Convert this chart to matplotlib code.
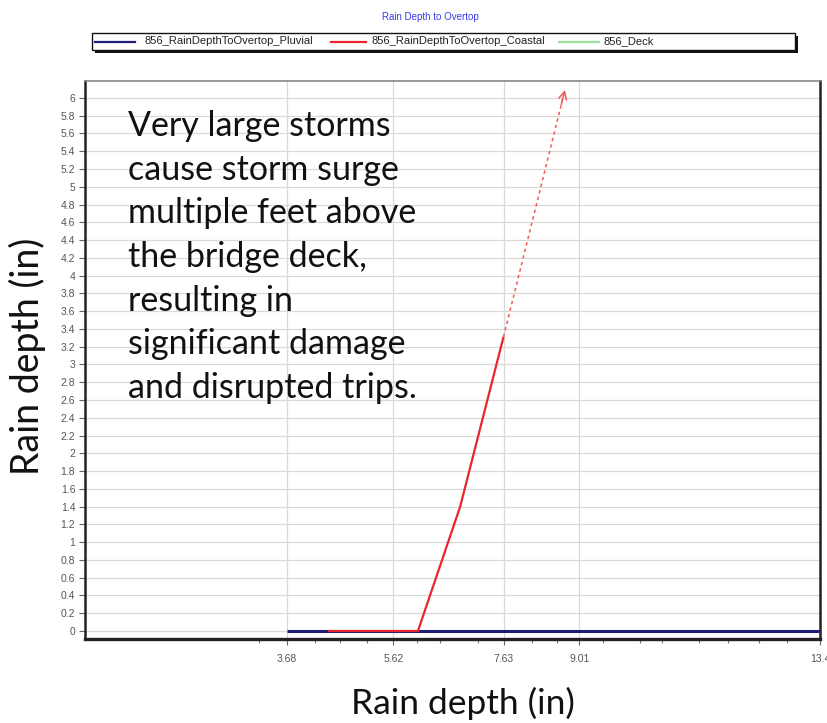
import matplotlib
matplotlib.use("Agg")
import matplotlib.pyplot as plt
from matplotlib.patches import Rectangle
from matplotlib.lines import Line2D

# ---------------- data ----------------
title = "Rain Depth to Overtop"
series_names = ["856_RainDepthToOvertop_Pluvial", "856_RainDepthToOvertop_Coastal", "856_Deck"]
series_colors = ["#1e1e78", "#e8262c", "#9be39b"]

pluvial_x = [3.68, 13.4]
pluvial_y = [0, 0]
coastal_x = [4.43, 6.07, 6.84, 7.63]
coastal_y = [0, 0, 1.40, 3.31]
deck_x = []
deck_y = []
trend_x = [7.63, 8.75]
trend_y = [3.31, 6.09]

x_ticks = [3.68, 5.62, 7.63, 9.01, 13.4]
x_tick_labels = ["3.68", "5.62", "7.63", "9.01", "13.4"]
x_minor_ticks = [3.17, 4.19, 4.65, 5.14, 6.05, 6.47, 7.17, 8.15, 8.61, 9.45,
                 10.12, 10.52, 11.2, 11.73, 12.29, 12.8]
y_ticks = [round(i * 0.2, 1) for i in range(31)]
y_tick_labels = [f"{v:g}" for v in y_ticks]

note = ("Very large storms\ncause storm surge\nmultiple feet above\nthe bridge deck,\n"
        "resulting in\nsignificant damage\nand disrupted trips.")
x_label = "Rain depth (in)"
y_label = "Rain depth (in)"

# ---------------- figure ----------------
W, H = 828, 723
fig = plt.figure(figsize=(W / 100, H / 100), dpi=100)
fig.patch.set_facecolor("white")

def fx(px):
    return px / W

def fy(py):
    return 1 - py / H

L, R, T, B = 85, 820, 81, 639
ax = fig.add_axes([fx(L), fy(B), fx(R - L), (B - T) / H])
ax.set_xlim(0, 13.4)
ax.set_ylim(-0.09, 6.19)

ax.set_xticks(x_ticks)
ax.set_xticklabels(x_tick_labels)
ax.set_xticks(x_minor_ticks, minor=True)
ax.set_yticks(y_ticks)
ax.set_yticklabels(y_tick_labels)

for lab in ax.get_xticklabels() + ax.get_yticklabels():
    lab.set_fontfamily("Liberation Sans")
    lab.set_fontsize(7.5)
ax.tick_params(axis="both", which="major", colors="#666666", labelcolor="#555555",
               length=4, width=0.8, pad=3)
ax.tick_params(axis="x", which="minor", colors="#777777", length=3, width=0.8)
ax.tick_params(axis="x", which="major", pad=7)

ax.grid(True, which="major", color="#d9d9d9", linewidth=0.9)
ax.set_axisbelow(True)

for side in ["left", "bottom", "right"]:
    ax.spines[side].set_color("#222222")
    ax.spines[side].set_linewidth(1.8)
ax.spines["bottom"].set_linewidth(2.4)
ax.spines["top"].set_color("#888888")
ax.spines["top"].set_linewidth(1.2)

# series
ax.plot(pluvial_x, pluvial_y, color=series_colors[0], lw=2.2, zorder=3,
        solid_capstyle="butt")
ax.plot(coastal_x, coastal_y, color=series_colors[1], lw=1.6, zorder=4,
        solid_capstyle="butt")
ax.plot(deck_x, deck_y, color=series_colors[2], lw=1.2, zorder=3)

# dashed extrapolation arrow
ax.plot(trend_x, trend_y, color="#f05a5a", lw=1.1, ls=(0, (2.2, 2.2)), zorder=4)
fr = 0.06
ax.annotate("", xy=(trend_x[1], trend_y[1]),
            xytext=(trend_x[1] - fr * (trend_x[1] - trend_x[0]),
                    trend_y[1] - fr * (trend_y[1] - trend_y[0])),
            arrowprops=dict(arrowstyle="->", color="#f05a5a", lw=1.1,
                            mutation_scale=14, shrinkA=0, shrinkB=0),
            zorder=4)

# note text
fig.text(fx(128), fy(110), note, ha="left", va="top", family="Lato",
         fontsize=24.5, color="#111111", linespacing=1.45)

# axis labels
fig.text(fx(463), fy(703), x_label, ha="center", va="center", family="Lato",
         fontsize=25.5, color="#111111")
fig.text(fx(27), fy(356), y_label, ha="center", va="center", family="Lato",
         fontsize=27, color="#111111", rotation=90)

# title
fig.text(fx(430), fy(17), title, ha="center", va="center",
         family="Liberation Sans", fontsize=7, color="#3a3aee")

# legend box with shadow
lx0, ly0, lx1, ly1 = 92, 33, 795, 50
fig.add_artist(Rectangle((fx(lx0 + 3), fy(ly1 + 3)), fx(lx1 - lx0), (ly1 - ly0) / H,
                         transform=fig.transFigure, fc="#111111", ec="none"))
fig.add_artist(Rectangle((fx(lx0), fy(ly1)), fx(lx1 - lx0), (ly1 - ly0) / H,
                         transform=fig.transFigure, fc="white", ec="#111111", lw=1.0))
handle_pos = [(95, 135, 145), (331, 366, 372), (559, 599, 604)]
ly = (ly0 + ly1) / 2
for (h0, h1, tx), name, col in zip(handle_pos, series_names, series_colors):
    fig.add_artist(Line2D([fx(h0), fx(h1)], [fy(ly), fy(ly)],
                          transform=fig.transFigure, color=col, lw=1.6))
    fig.text(fx(tx), fy(ly), name, ha="left", va="center",
             family="Liberation Sans", fontsize=8, color="#222222")

fig.savefig("out.png", dpi=100)
